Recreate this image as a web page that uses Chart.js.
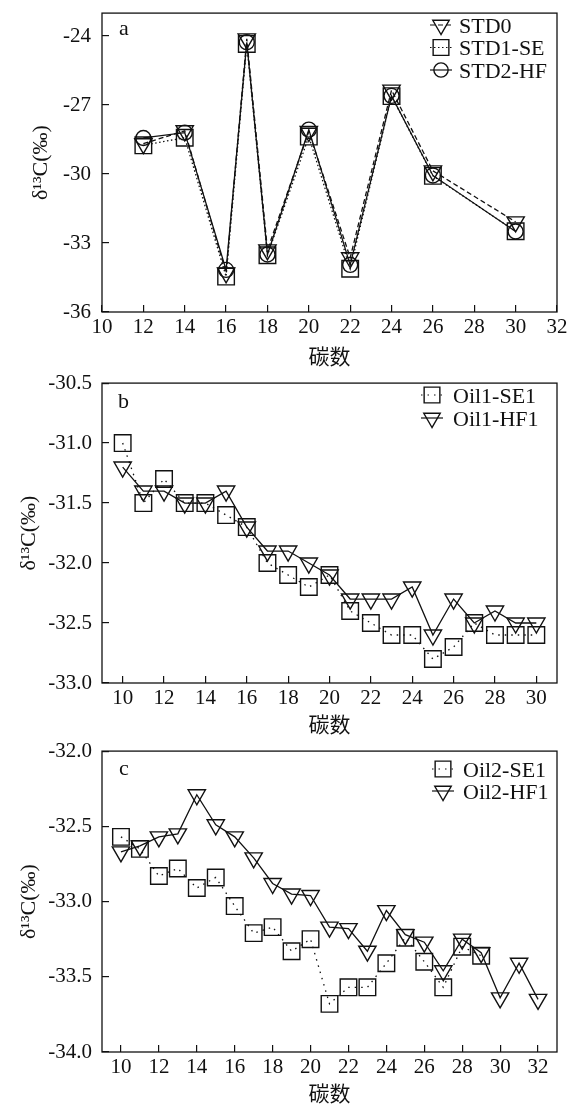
<!DOCTYPE html>
<html>
<head>
<meta charset="utf-8">
<script src="https://cdn.jsdelivr.net/npm/chart.js@4/dist/chart.umd.min.js"></script>
<style>
  html, body { margin: 0; padding: 0; background: #fff; }
  canvas { display: block; }
</style>
</head>
<body>
<canvas id="chartA" width="578" height="370"></canvas>
<canvas id="chartB" width="578" height="368"></canvas>
<canvas id="chartC" width="578" height="368"></canvas>
<script>
/* DATA panel a */
const carbonA = [12, 14, 16, 17, 18, 20, 22, 24, 26, 30];
const std0    = [-28.68, -28.12, -34.30, -24.12, -33.30, -28.15, -33.64, -26.35, -29.86, -32.08];
const std1SE  = [-28.75, -28.42, -34.46, -24.34, -33.53, -28.37, -34.12, -26.61, -30.08, -32.49];
const std2HF  = [-28.43, -28.20, -34.17, -24.27, -33.50, -28.07, -33.95, -26.60, -30.06, -32.50];
const xTicksA = [10, 12, 14, 16, 18, 20, 22, 24, 26, 28, 30, 32];
const yTicksA = [-36, -33, -30, -27, -24];

/* DATA panel b */
const carbonB = [10, 11, 12, 13, 14, 15, 16, 17, 18, 19, 20, 21, 22, 23, 24, 25, 26, 27, 28, 29, 30];
const oil1SE1 = [-31.0, -31.5, -31.3, -31.5, -31.5, -31.6, -31.7, -32.0, -32.1, -32.2, -32.1,
                 -32.4, -32.5, -32.6, -32.6, -32.8, -32.7, -32.5, -32.6, -32.6, -32.6];
const oil1HF1 = [-31.2, -31.4, -31.4, -31.5, -31.5, -31.4, -31.7, -31.9, -31.9, -32.0, -32.1,
                 -32.3, -32.3, -32.3, -32.2, -32.6, -32.3, -32.5, -32.4, -32.5, -32.5];
const xTicksB = [10, 12, 14, 16, 18, 20, 22, 24, 26, 28, 30];
const yTicksB = [-33.0, -32.5, -32.0, -31.5, -31.0, -30.5];

/* DATA panel c */
const carbonCSE = [10, 11, 12, 13, 14, 15, 16, 17, 18, 19, 20, 21, 22, 23, 24, 25, 26, 27, 28, 29];
const oil2SE1   = [-32.57, -32.65, -32.83, -32.78, -32.91, -32.84, -33.03, -33.21, -33.17, -33.33,
                   -33.25, -33.68, -33.57, -33.57, -33.41, -33.24, -33.40, -33.57, -33.30, -33.36];
const carbonCHF = [10, 11, 12, 13, 14, 15, 16, 17, 18, 19, 20, 21, 22, 23, 24, 25, 26, 27, 28, 29, 30, 31, 32];
const oil2HF1   = [-32.67, -32.63, -32.57, -32.55, -32.29, -32.49, -32.57, -32.71, -32.88, -32.95, -32.96,
                   -33.17, -33.18, -33.33, -33.06, -33.22, -33.27, -33.46, -33.25, -33.34, -33.64, -33.41, -33.65];
const xTicksC = [10, 12, 14, 16, 18, 20, 22, 24, 26, 28, 30, 32];
const yTicksC = [-34.0, -33.5, -33.0, -32.5, -32.0];

const INK = '#111';
const SERIF = "'Liberation Serif', 'Times New Roman', serif";
const CJK = "'Noto Sans CJK SC', sans-serif";

const pts = (xs, ys) => xs.map((x, i) => ({x: x, y: ys[i]}));

function series(label, xs, ys, style, dash) {
    const r = {rect: 11.7, triangle: 10, circle: 7.5}[style];
    return {
        label: label, data: pts(xs, ys),
        borderColor: INK, borderWidth: 1.3, borderDash: dash,
        pointStyle: style, pointRadius: r, pointHoverRadius: r,
        pointRotation: style === 'triangle' ? 180 : 0,
        pointBorderColor: INK, pointBorderWidth: 1.4,
        pointBackgroundColor: 'rgba(0,0,0,0)',
        fill: false, tension: 0
    };
}

/* marker for the legend, same shapes as chart.js draws */
function drawMarker(ctx, style, x, y, r) {
    ctx.beginPath();
    if (style === 'rect') {
        const s = r * Math.SQRT1_2;
        ctx.rect(x - s, y - s, 2 * s, 2 * s);
    } else if (style === 'triangle') {
        for (let i = 0; i < 3; i++) {
            const a = Math.PI + i * 2 * Math.PI / 3;
            const px = x + Math.sin(a) * r, py = y - Math.cos(a) * r;
            if (i === 0) ctx.moveTo(px, py); else ctx.lineTo(px, py);
        }
        ctx.closePath();
    } else {
        ctx.arc(x, y, r, 0, Math.PI * 2);
    }
    ctx.stroke();
}

/* frame, panel letter and legend */
const decor = {
    id: 'decor',
    afterDraw(chart, args, o) {
        const {ctx, chartArea: ca} = chart;
        ctx.save();
        ctx.strokeStyle = INK; ctx.fillStyle = INK;
        ctx.lineWidth = 1.3;
        ctx.strokeRect(ca.left, ca.top, ca.right - ca.left, ca.bottom - ca.top);

        ctx.font = '22px ' + SERIF;
        ctx.textBaseline = 'alphabetic';
        ctx.fillText(o.letter, o.letterX, o.letterY);

        chart.data.datasets.forEach((ds, i) => {
            const y = o.legY + i * o.legDy;
            ctx.lineWidth = 1.2;
            ctx.setLineDash(ds.borderDash || []);
            ctx.beginPath();
            ctx.moveTo(o.markX - 11, y); ctx.lineTo(o.markX + 11, y);
            ctx.stroke();
            ctx.setLineDash([]);
            ctx.lineWidth = 1.4;
            drawMarker(ctx, ds.pointStyle, o.markX, y, ds.pointRadius * 0.95);
            ctx.fillText(ds.label, o.textX, y + 7.5);
        });
        ctx.restore();
    }
};

function makeChart(id, p) {
    const tickFont = {family: SERIF, size: 21};
    return new Chart(document.getElementById(id), {
        type: 'line',
        data: {datasets: p.datasets},
        options: {
            responsive: false, animation: false,
            layout: {padding: {top: p.padTop, right: 21, left: 0, bottom: 0}},
            plugins: {legend: {display: false}, tooltip: {enabled: false}, decor: p.decor},
            scales: {
                x: {
                    type: 'linear', min: p.xMin, max: p.xMax,
                    afterBuildTicks: s => { s.ticks = p.xTicks.map(v => ({value: v})); },
                    afterFit: s => { s.height = p.xHeight; s.paddingLeft = 0; s.paddingRight = 0; },
                    border: {display: false},
                    grid: {drawOnChartArea: false, drawTicks: true, tickLength: -7, color: INK, lineWidth: 1.2},
                    ticks: {font: tickFont, color: INK, padding: 10, autoSkip: false, maxRotation: 0,
                            callback: v => String(v)},
                    title: {display: true, text: '碳数', color: INK, font: {family: CJK, size: 21},
                            padding: {top: 0, bottom: p.xTitlePad}}
                },
                y: {
                    type: 'linear', min: p.yMin, max: p.yMax,
                    afterBuildTicks: s => { s.ticks = p.yTicks.map(v => ({value: v})); },
                    afterFit: s => { s.width = 102; s.paddingTop = 0; s.paddingBottom = 0; },
                    border: {display: false},
                    grid: {drawOnChartArea: false, drawTicks: true, tickLength: -7, color: INK, lineWidth: 1.2},
                    ticks: {font: tickFont, color: INK, padding: p.yPad,
                            callback: v => v.toFixed(p.dec)},
                    title: {display: true, text: 'δ¹³C(‰)', color: INK, font: {family: SERIF, size: 22},
                            padding: {top: p.yTitlePad, bottom: 0}}
                }
            }
        },
        plugins: [decor]
    });
}

/* CHART a */
makeChart('chartA', {
    datasets: [
        series('STD0', carbonA, std0, 'triangle', [5, 3]),
        series('STD1-SE', carbonA, std1SE, 'rect', [1.5, 2.5]),
        series('STD2-HF', carbonA, std2HF, 'circle', [])
    ],
    xMin: 10, xMax: 32, xTicks: xTicksA, yMin: -36, yMax: -23, yTicks: yTicksA, dec: 0,
    padTop: 9, xHeight: 58, xTitlePad: 1, yPad: 18, yTitlePad: 28,
    decor: {letter: 'a', letterX: 119, letterY: 35, markX: 441, textX: 459, legY: 25, legDy: 22.5}
});

/* CHART b */
makeChart('chartB', {
    datasets: [
        series('Oil1-SE1', carbonB, oil1SE1, 'rect', [1.5, 5]),
        series('Oil1-HF1', carbonB, oil1HF1, 'triangle', [])
    ],
    xMin: 9, xMax: 31, xTicks: xTicksB, yMin: -33, yMax: -30.5, yTicks: yTicksB, dec: 1,
    padTop: 9, xHeight: 55, xTitlePad: 1, yPad: 17, yTitlePad: 16,
    decor: {letter: 'b', letterX: 118, letterY: 38, markX: 432, textX: 453, legY: 25, legDy: 23}
});

/* CHART c */
makeChart('chartC', {
    datasets: [
        series('Oil2-SE1', carbonCSE, oil2SE1, 'rect', [1.5, 5]),
        series('Oil2-HF1', carbonCHF, oil2HF1, 'triangle', [])
    ],
    xMin: 9, xMax: 33, xTicks: xTicksC, yMin: -34, yMax: -32, yTicks: yTicksC, dec: 1,
    padTop: 11, xHeight: 54, xTitlePad: 0, yPad: 17, yTitlePad: 16,
    decor: {letter: 'c', letterX: 119, letterY: 37, markX: 443, textX: 463, legY: 31, legDy: 22}
});
</script>
</body>
</html>
